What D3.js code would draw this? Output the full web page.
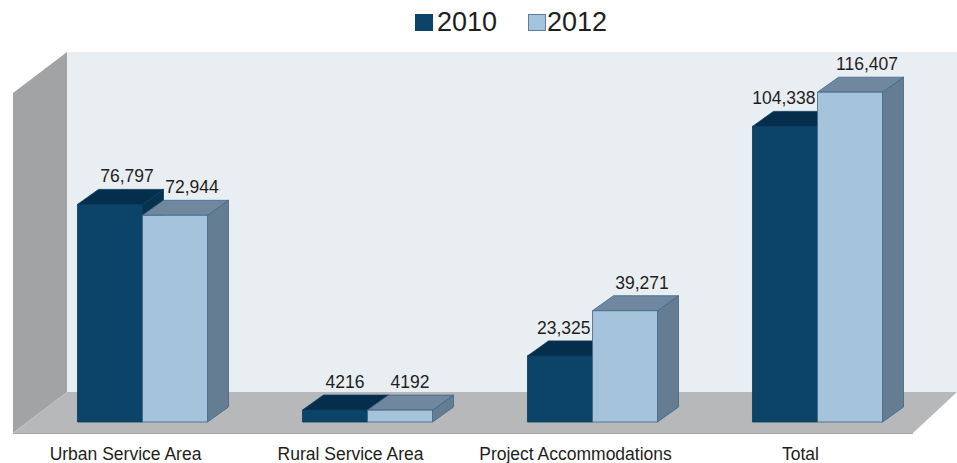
<!DOCTYPE html>
<html>
<head>
<meta charset="utf-8">
<script src="https://cdn.jsdelivr.net/npm/d3@7"></script>
<style>
  body { margin: 0; background: #fff; }
  svg { display: block; }
  text { font-family: "Liberation Sans", Arial, sans-serif; }
</style>
</head>
<body>
<svg id="chart" width="957" height="463"></svg>
<script>
// ---- data ----
const categories = ["Urban Service Area", "Rural Service Area", "Project Accommodations", "Total"];
const seriesNames = ["2010", "2012"];
const values2010 = [76797, 4216, 23325, 104338];
const values2012 = [72944, 4192, 39271, 116407];
const labels2010 = ["76,797", "4216", "23,325", "104,338"];
const labels2012 = ["72,944", "4192", "39,271", "116,407"];
const valueDomain = [0, 120000];

// ---- styling ----
const colors = {
  "2010": { front: "#0b4468", top: "#052e4c", side: "#06324f", stroke: "#0a3a5a" },
  "2012": { front: "#a5c3db", top: "#6f889f", side: "#657d92", stroke: "#3f6688" }
};
const wallColors = { back: "#e9eef3", left: "#a2a3a5", floor: "#b7b8ba", edge: "#a6a7a9" };

const svg = d3.select("#chart");

// front plane of the 3D box
const plot = { left: 13, right: 913, base: 433, top: 93 };
const depthY = 41;
// horizontal depth offset shrinks slightly to the right (mild perspective)
const depthX = x => 54 - 10 * (x - plot.left) / (plot.right - plot.left);
const proj = (x, y, z) => [x + z * depthX(x), y - z * depthY];

const x = d3.scaleBand().domain(categories).range([plot.left, plot.right])
  .paddingInner(0.4222).paddingOuter(0.2111);
const xSub = d3.scaleBand().domain(seriesNames).range([0, x.bandwidth()]);
const y = d3.scaleLinear().domain(valueDomain).range([plot.base, plot.top]);

const poly = pts => "M" + pts.map(p => p.join(",")).join("L") + "Z";

// ---- walls and floor ----
const g = svg.append("g");
g.append("path")
  .attr("d", poly([proj(plot.left, plot.base, 1), proj(plot.right, plot.base, 1),
                   proj(plot.right, plot.top, 1), proj(plot.left, plot.top, 1)]))
  .attr("fill", wallColors.back);
g.append("path")
  .attr("d", poly([[plot.left, plot.top], proj(plot.left, plot.top, 1),
                   proj(plot.left, plot.base, 1), [plot.left, plot.base]]))
  .attr("fill", wallColors.left);
g.append("path")
  .attr("d", poly([[plot.left, plot.base], [plot.right, plot.base],
                   proj(plot.right, plot.base, 1), proj(plot.left, plot.base, 1)]))
  .attr("fill", wallColors.floor);
g.append("line")
  .attr("x1", plot.left).attr("x2", plot.right)
  .attr("y1", plot.base + 0.5).attr("y2", plot.base + 0.5)
  .attr("stroke", wallColors.edge).attr("stroke-width", 1);

// ---- bars ----
const barShift = { dx: 17, dy: -11 };   // bars sit partway into the floor
const barDepth = { dx: 21, dy: -15 };   // thickness of each bar

const rows = categories.map((c, i) => ({
  category: c,
  bars: [
    { series: "2010", value: values2010[i], label: labels2010[i] },
    { series: "2012", value: values2012[i], label: labels2012[i] }
  ]
}));

const barsG = svg.append("g");
const labelsG = svg.append("g");

rows.forEach(row => {
  const geo = row.bars.map(b => {
    const x0 = x(row.category) + xSub(b.series) + barShift.dx;
    const x1 = x0 + xSub.bandwidth();
    const yb = plot.base + barShift.dy;
    const yt = y(b.value) + barShift.dy;
    return { ...b, x0, x1, yb, yt };
  });

  geo.forEach(b => {
    const c = colors[b.series];
    const bg = barsG.append("g").attr("stroke", c.stroke).attr("stroke-width", 0.8)
      .attr("stroke-linejoin", "round");
    bg.append("path")
      .attr("d", poly([[b.x1, b.yt], [b.x1 + barDepth.dx, b.yt + barDepth.dy],
                       [b.x1 + barDepth.dx, b.yb + barDepth.dy], [b.x1, b.yb]]))
      .attr("fill", c.side);
    bg.append("path")
      .attr("d", poly([[b.x0, b.yt], [b.x1, b.yt], [b.x1 + barDepth.dx, b.yt + barDepth.dy],
                       [b.x0 + barDepth.dx, b.yt + barDepth.dy]]))
      .attr("fill", c.top);
    bg.append("rect")
      .attr("x", b.x0).attr("y", b.yt)
      .attr("width", b.x1 - b.x0).attr("height", b.yb - b.yt)
      .attr("fill", c.front);
  });

  // value labels above each bar's top face
  geo.forEach((b, j) => {
    const next = geo[j + 1];
    const t = labelsG.append("text")
      .attr("y", b.yt + barDepth.dy - 7)
      .attr("font-size", 17.5)
      .attr("fill", "#1e1e1e")
      .text(b.label);
    if (next && next.value > b.value) {
      t.attr("x", next.x0 - 2).attr("text-anchor", "end");
    } else {
      // short bars keep their labels closer together
      const shift = (b.yb - b.yt) < 30 ? 10 : 17;
      t.attr("x", (b.x0 + b.x1) / 2 + shift).attr("text-anchor", "middle");
    }
  });
});

// ---- category labels ----
svg.append("g").selectAll("text")
  .data(categories)
  .join("text")
  .attr("x", d => x(d) + x.bandwidth() / 2)
  .attr("y", 460)
  .attr("text-anchor", "middle")
  .attr("font-size", 17.5)
  .attr("fill", "#1e1e1e")
  .text(d => d);

// ---- legend ----
const legend = svg.append("g");
const legendItems = [
  { name: "2010", sx: 415, tx: 437 },
  { name: "2012", sx: 528, tx: 547 }
];
legendItems.forEach(it => {
  legend.append("rect")
    .attr("x", it.sx + 0.5).attr("y", 14.5).attr("width", 17).attr("height", 16)
    .attr("fill", colors[it.name].front)
    .attr("stroke", it.name === "2012" ? "#5a7fa0" : colors[it.name].front);
  legend.append("text")
    .attr("x", it.tx).attr("y", 31)
    .attr("font-size", 27)
    .attr("fill", "#1e1e1e")
    .text(it.name);
});
</script>
</body>
</html>
